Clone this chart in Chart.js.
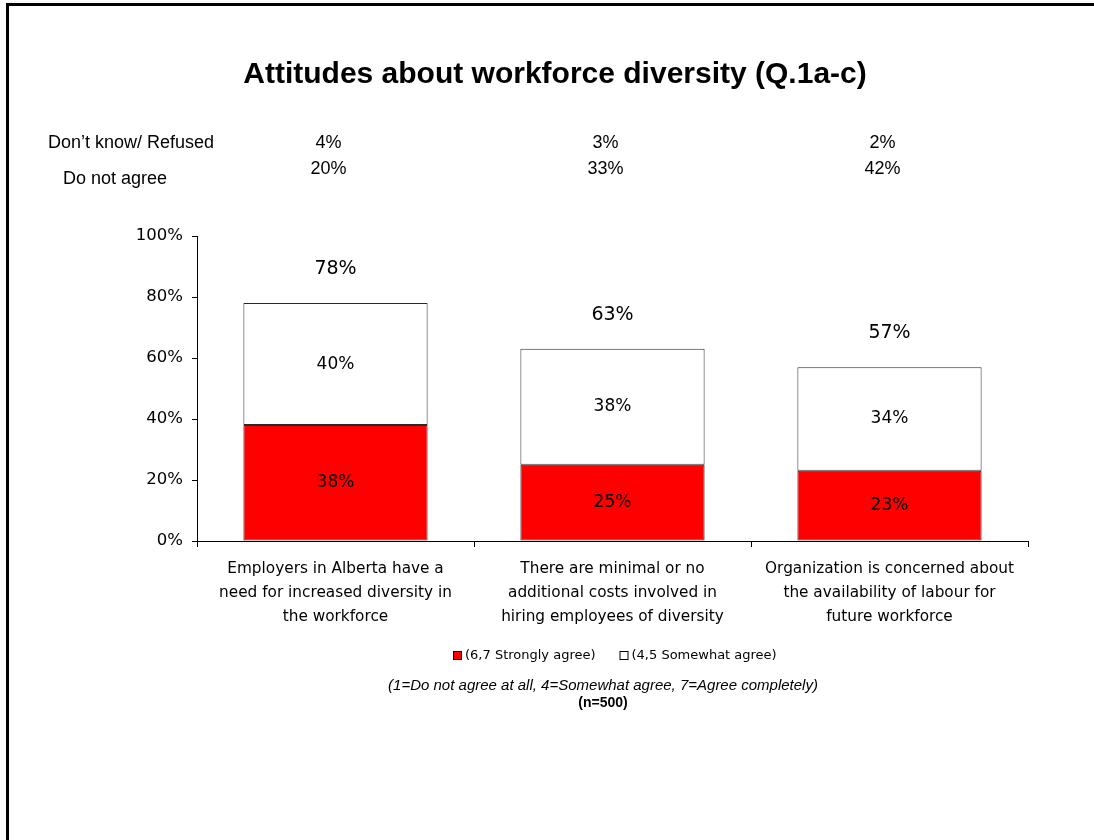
<!DOCTYPE html>
<html>
<head>
<meta charset="utf-8">
<script src="https://cdn.jsdelivr.net/npm/chart.js@4"></script>
<style>
  body { margin: 0; background: #fff; }
  canvas { display: block; }
</style>
</head>
<body>
<canvas id="chart" width="1094" height="840"></canvas>
<script>
// Survey items (x axis, one array per line)
var categories = [
  ["Employers in Alberta have a", "need for increased diversity in", "the workforce"],
  ["There are minimal or no", "additional costs involved in", "hiring employees of diversity"],
  ["Organization is concerned about", "the availability of labour for", "future workforce"]
];

// Stacked agree shares (%)
var stronglyAgree = [38, 25, 23];
var somewhatAgree = [40, 38, 34];

// Rows printed above the chart (%)
var dontKnow = [4, 3, 2];
var doNotAgree = [20, 33, 42];

var yTicks = [0, 20, 40, 60, 80, 100];

var TAHOMA = "'DejaVu Sans', Verdana, sans-serif";
var ARIAL = "'Liberation Sans', Arial, sans-serif";

// Frame, title, the top table, legend and notes
var decorations = {
  id: "decorations",
  beforeDraw: function (chart) {
    var ctx = chart.ctx;
    ctx.save();
    ctx.fillStyle = "#fff";
    ctx.fillRect(0, 0, chart.width, chart.height);
    ctx.fillStyle = "#000";
    ctx.fillRect(6, 3, chart.width - 6, 3);
    ctx.fillRect(6, 3, 3, chart.height - 3);
    ctx.restore();
  },
  afterDraw: function (chart) {
    var ctx = chart.ctx;
    var x = chart.scales.x;
    ctx.save();
    ctx.fillStyle = "#000";
    ctx.textBaseline = "middle";

    // title
    ctx.textAlign = "center";
    ctx.font = "bold 30px " + ARIAL;
    ctx.fillText("Attitudes about workforce diversity (Q.1a-c)", 555, 75);

    // don't know / do not agree rows
    ctx.font = "18px " + ARIAL;
    ctx.textAlign = "left";
    ctx.fillText("Don\u2019t know/ Refused", 48, 143);
    ctx.fillText("Do not agree", 63, 179);
    ctx.textAlign = "center";
    for (var i = 0; i < categories.length; i++) {
      var cx = x.getPixelForValue(i) - 7;
      ctx.fillText(dontKnow[i] + "%", cx, 143);
      ctx.fillText(doNotAgree[i] + "%", cx, 169);
    }

    // legend
    ctx.font = "13px " + TAHOMA;
    ctx.textAlign = "left";
    var lx = 453;
    chart.data.datasets.forEach(function (ds) {
      ctx.fillStyle = ds.backgroundColor;
      ctx.fillRect(lx, 651, 8, 8);
      ctx.strokeStyle = "#000";
      ctx.lineWidth = 1;
      ctx.strokeRect(lx + 0.5, 651.5, 8, 8);
      ctx.fillStyle = "#000";
      ctx.fillText(ds.label, lx + 12, 656);
      lx += 12 + ctx.measureText(ds.label).width + 24;
    });

    // notes
    ctx.textAlign = "center";
    ctx.font = "italic 15px " + ARIAL;
    ctx.fillText("(1=Do not agree at all, 4=Somewhat agree, 7=Agree completely)", 603, 686);
    ctx.font = "bold 14px " + ARIAL;
    ctx.fillText("(n=500)", 603, 703);
    ctx.restore();
  }
};

// Segment values inside the bars and totals above
var barLabels = {
  id: "barLabels",
  afterDatasetsDraw: function (chart) {
    var ctx = chart.ctx;
    ctx.save();
    ctx.fillStyle = "#000";
    ctx.textAlign = "center";
    ctx.textBaseline = "middle";
    ctx.font = "17px " + TAHOMA;
    chart.data.datasets.forEach(function (ds, d) {
      chart.getDatasetMeta(d).data.forEach(function (bar, i) {
        ctx.fillText(ds.data[i] + "%", bar.x, (bar.y + bar.base) / 2);
      });
    });
    ctx.font = "19px " + TAHOMA;
    var top = chart.getDatasetMeta(chart.data.datasets.length - 1).data;
    top.forEach(function (bar, i) {
      var total = stronglyAgree[i] + somewhatAgree[i];
      ctx.fillText(total + "%", bar.x, bar.y - 34);
    });
    ctx.restore();
  }
};

new Chart(document.getElementById("chart").getContext("2d"), {
  type: "bar",
  data: {
    labels: categories,
    datasets: [
      {
        label: "(6,7 Strongly agree)",
        data: stronglyAgree,
        backgroundColor: "#ff0000",
        borderColor: "#2a2a2a",
        borderWidth: 1,
        borderSkipped: false
      },
      {
        label: "(4,5 Somewhat agree)",
        data: somewhatAgree,
        backgroundColor: "#ffffff",
        borderColor: "#2a2a2a",
        borderWidth: 1,
        borderSkipped: false
      }
    ]
  },
  options: {
    responsive: false,
    animation: false,
    events: [],
    categoryPercentage: 1,
    barPercentage: 0.665,
    layout: { padding: { left: 0, right: 66, top: 236, bottom: 199 } },
    plugins: {
      legend: { display: false },
      title: { display: false },
      tooltip: { enabled: false }
    },
    scales: {
      x: {
        stacked: true,
        grid: { drawOnChartArea: false, tickLength: 6, color: "#000" },
        border: { color: "#000", width: 1 },
        ticks: {
          color: "#000",
          padding: 10,
          maxRotation: 0,
          autoSkip: false,
          font: { family: TAHOMA, size: 15.3, lineHeight: 1.57 }
        },
        afterFit: function (s) { s.height = 100; }
      },
      y: {
        stacked: true,
        min: 0,
        max: 100,
        afterBuildTicks: function (s) {
          s.ticks = yTicks.map(function (v) { return { value: v }; });
        },
        grid: { drawOnChartArea: false, tickLength: 5, color: "#000" },
        border: { color: "#000", width: 1 },
        ticks: {
          color: "#000",
          padding: 9,
          font: { family: TAHOMA, size: 16.5 },
          callback: function (v) { return v + "%"; }
        },
        afterFit: function (s) { s.width = 197; }
      }
    }
  },
  plugins: [decorations, barLabels]
});
</script>
</body>
</html>
